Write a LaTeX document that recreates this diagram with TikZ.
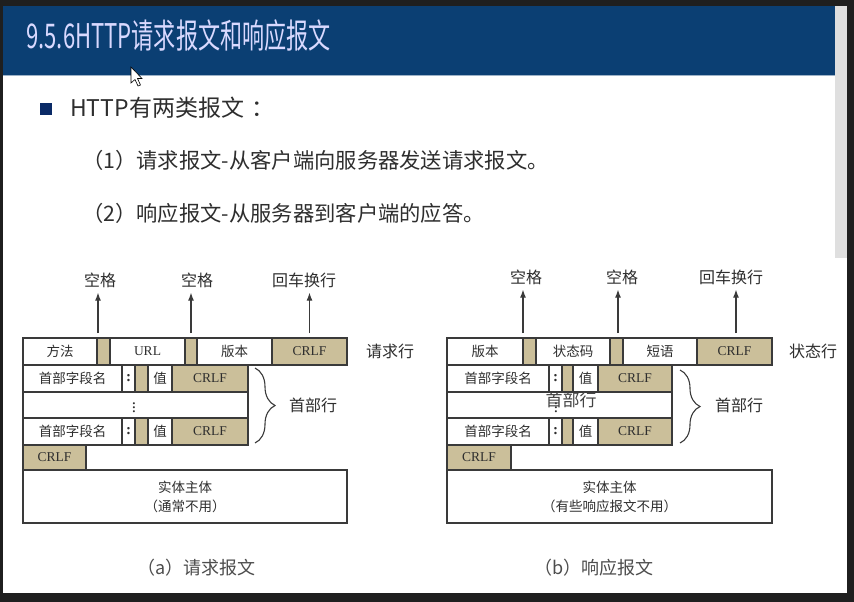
\documentclass[tikz,border=0pt]{standalone}
\usepackage{fontspec}
\setmainfont{Liberation Serif}
\newfontfamily\cjk{Noto Sans CJK SC}
\usetikzlibrary{arrows.meta,decorations.pathreplacing}
\definecolor{tanc}{HTML}{CBBF9A}
\definecolor{linec}{HTML}{3A3A3A}
\definecolor{txtc}{HTML}{2E2E2E}
\definecolor{titlebg}{HTML}{0B3F73}
\definecolor{framec}{HTML}{1F1F1F}
\definecolor{bulletc}{HTML}{0A2A66}
\newcommand\zh[1]{{\cjk #1}}
\newcommand\colonmark{{\fontsize{15}{15}\selectfont\textbf{:}}}
\newcommand\mkcell[7]{\node[cellbox, fill=#6, minimum width={(#4-#2)*1pt}, minimum height={(#5-#3)*1pt}] (#1) at (#2,#3) {#7};}
\begin{document}
\begin{tikzpicture}[x=1pt,y=-1pt,
  cellbox/.style={draw=linec, line width=1.2pt, inner sep=0pt, outer sep=0pt, anchor=north west, align=center,
    font=\fontsize{13.5}{19}\selectfont, text=txtc},
  lab/.style={font=\cjk\fontsize{16}{16}\selectfont, text=txtc, inner sep=1pt},
  arr/.style={line width=1.2pt, draw=linec, -{Latex[length=8pt,width=6pt]}, shorten >=4pt},
  brc/.style={draw=linec, line width=1.1pt, decorate, decoration={brace, amplitude=20pt, aspect=0.5}},
  slidetxt/.style={font=\cjk\fontsize{21.3}{21.3}\selectfont, text=txtc, anchor=west, inner sep=0pt},
  captxt/.style={font=\cjk\fontsize{18}{18}\selectfont, text=txtc!85, anchor=west, inner sep=0pt},
  vdotstxt/.style={text=txtc, inner sep=0pt, font=\fontsize{17}{17}\selectfont}]
\useasboundingbox (0,0) rectangle (854,602);
% frame and slide
\fill[framec] (0,0) rectangle (854,602);
\fill[white] (3,6) rectangle (847,593);
\fill[titlebg] (3,6) rectangle (835,76);
\draw[color=white!60!titlebg, line width=1pt] (3,76) -- (835,76);
\fill[gray!25] (835,6) rectangle (847,258);
\node[anchor=west, inner sep=0pt, text=white!85!blue] (title) at (26,36)
  {\scalebox{0.65}[1]{\cjk\fontsize{34}{34}\selectfont 9.5.6HTTP请求报文和响应报文}};
% cursor
\filldraw[fill=white, draw=black, line width=0.6pt] (131,67) -- (131,83) -- (135,79.5) -- (138,86) -- (140.5,85) -- (137.5,78.5) -- (142,78.5) -- cycle;
% bullet text
\fill[bulletc] (40,103) rectangle (52,115);
\node[slidetxt, font=\cjk\fontsize{23}{23}\selectfont] (h1) at (70,108) {HTTP有两类报文\kern7pt：};
\node[slidetxt] (l1) at (82,160) {（1）请求报文-从客户端向服务器发送请求报文。};
\node[slidetxt] (l2) at (82,213) {（2）响应报文-从服务器到客户端的应答。};

% ===== request message =====
\mkcell{ra1}{23}{338}{97}{365}{white}{\zh{方法}}
\mkcell{ra2}{97}{338}{110}{365}{tanc}{}
\mkcell{ra3}{110}{338}{185}{365}{white}{URL}
\mkcell{ra4}{185}{338}{197}{365}{tanc}{}
\mkcell{ra5}{197}{338}{272}{365}{white}{\zh{版本}}
\mkcell{ra6}{272}{338}{347}{365}{tanc}{CRLF}
\mkcell{ha1}{23}{365}{122}{392}{white}{\zh{首部字段名}}
\mkcell{ha2}{122}{365}{135}{392}{white}{\colonmark}
\mkcell{ha3}{135}{365}{148}{392}{tanc}{}
\mkcell{ha4}{148}{365}{172}{392}{white}{\zh{值}}
\mkcell{ha5}{172}{365}{248}{392}{tanc}{CRLF}
\mkcell{ma}{23}{392}{248}{418}{white}{}
\mkcell{hb1}{23}{418}{122}{445}{white}{\zh{首部字段名}}
\mkcell{hb2}{122}{418}{135}{445}{white}{\colonmark}
\mkcell{hb3}{135}{418}{148}{445}{tanc}{}
\mkcell{hb4}{148}{418}{172}{445}{white}{\zh{值}}
\mkcell{hb5}{172}{418}{248}{445}{tanc}{CRLF}
\mkcell{ca}{23}{445}{86}{470}{tanc}{CRLF}
\mkcell{ea}{23}{470}{347}{523}{white}{\zh{实体主体}\\\zh{（通常不用）}}
\node[vdotstxt] (dotsa) at (134,405) {$\vdots$};

\node[lab] (la1) at (100,280) {空格};
\node[lab] (la2) at (197,280) {空格};
\node[lab] (la3) at (304,280) {回车换行};
\node[lab] (rowa) at (390,351) {请求行};
\draw[arr] ([xshift=1pt,yshift=5pt]ra2.north west) -- ([xshift=1pt]ra2.north west |- la1.south);
\draw[arr] ([yshift=5pt]ra4.north) -- (ra4.north |- la2.south);
\draw[arr] ([yshift=5pt]ra6.north) -- (ra6.north |- la3.south);
\draw[brc] ([xshift=7pt,yshift=-3pt]ha5.north east) -- ([xshift=7pt,yshift=2pt]hb5.south east);
\node[lab] (hla) at (313,405) {首部行};
\node[captxt] (capa) at (137,568) {（a）请求报文};

% ===== response message =====
\mkcell{rb1}{447}{338}{523}{365}{white}{\zh{版本}}
\mkcell{rb2}{523}{338}{536}{365}{tanc}{}
\mkcell{rb3}{536}{338}{610}{365}{white}{\zh{状态码}}
\mkcell{rb4}{610}{338}{623}{365}{tanc}{}
\mkcell{rb5}{623}{338}{697}{365}{white}{\zh{短语}}
\mkcell{rb6}{697}{338}{772}{365}{tanc}{CRLF}
\mkcell{hc1}{447}{365}{549}{392}{white}{\zh{首部字段名}}
\mkcell{hc2}{549}{365}{562}{392}{white}{\colonmark}
\mkcell{hc3}{562}{365}{573}{392}{tanc}{}
\mkcell{hc4}{573}{365}{598}{392}{white}{\zh{值}}
\mkcell{hc5}{598}{365}{672}{392}{tanc}{CRLF}
\mkcell{mb}{447}{392}{672}{418}{white}{}
\mkcell{hd1}{447}{418}{549}{445}{white}{\zh{首部字段名}}
\mkcell{hd2}{549}{418}{562}{445}{white}{\colonmark}
\mkcell{hd3}{562}{418}{573}{445}{tanc}{}
\mkcell{hd4}{573}{418}{598}{445}{white}{\zh{值}}
\mkcell{hd5}{598}{418}{672}{445}{tanc}{CRLF}
\mkcell{cb}{447}{445}{511}{470}{tanc}{CRLF}
\mkcell{eb}{447}{470}{772}{523}{white}{\zh{实体主体}\\\zh{（有些响应报文不用）}}
\node[vdotstxt] (dotsb) at (556,405) {$\vdots$};
\node[text=txtc!90, inner sep=0pt, font=\cjk\fontsize{17}{17}\selectfont] (ovl) at (571,400) {首部行};

\node[lab] (lb1) at (526,277) {空格};
\node[lab] (lb2) at (622,277) {空格};
\node[lab] (lb3) at (731,277) {回车换行};
\node[lab] (rowb) at (813,351) {状态行};
\draw[arr] ([yshift=5pt]rb2.north west) -- (rb2.north west |- lb1.south);
\draw[arr] ([xshift=1.5pt,yshift=5pt]rb4.north) -- ([xshift=1.5pt]rb4.north |- lb2.south);
\draw[arr] ([xshift=1.5pt,yshift=5pt]rb6.north) -- ([xshift=1.5pt]rb6.north |- lb3.south);
\draw[brc] ([xshift=8pt,yshift=-5pt]hc5.north east) -- ([xshift=8pt,yshift=2pt]hd5.south east);
\node[lab] (hlb) at (739,405) {首部行};
\node[captxt] (capb) at (534,568) {（b）响应报文};
\end{tikzpicture}
\end{document}
